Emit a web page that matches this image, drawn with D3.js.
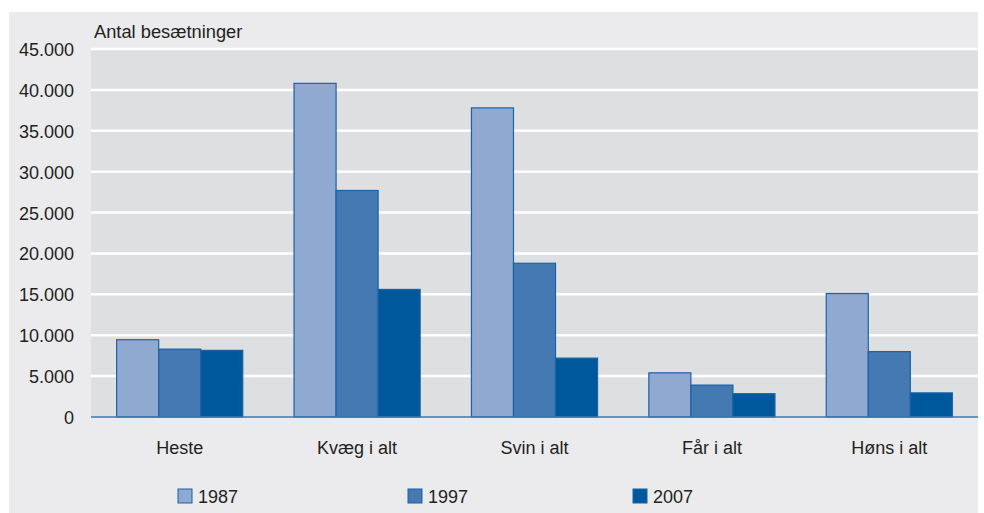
<!DOCTYPE html>
<html>
<head>
<meta charset="utf-8">
<script src="https://cdn.jsdelivr.net/npm/d3@7"></script>
<style>
  body { margin: 0; background: #fff; }
  svg { display: block; font-family: "Liberation Sans", Arial, sans-serif; }
</style>
</head>
<body>
<div id="vis"></div>
<script>
var categories = ['Heste', 'Kvæg i alt', 'Svin i alt', 'Får i alt', 'Høns i alt'];
var years = ['1987', '1997', '2007'];
var values1987 = [9450, 40800, 37800, 5400, 15100];
var values1997 = [8300, 27700, 18800, 3900, 8000];
var values2007 = [8150, 15600, 7200, 2850, 2950];
var yTicks = [0, 5000, 10000, 15000, 20000, 25000, 30000, 35000, 40000, 45000];
var colors = ['#8fa9d0', '#4579b2', '#00589c'];

var width = 984, height = 513;
var margin = { left: 91, right: 6, top: 49, bottom: 96 };
var fontSize = 18;

var series = [values1987, values1997, values2007];
var data = categories.map(function(c, i) {
  return { cat: c, vals: years.map(function(y, j) { return { year: y, value: series[j][i] }; }) };
});

var svg = d3.select('#vis').append('svg')
  .attr('width', width)
  .attr('height', height);

// outer panel
svg.append('rect')
  .attr('x', 9).attr('y', 12)
  .attr('width', 969).attr('height', 501)
  .attr('fill', '#ebebed');

var x0 = d3.scaleBand()
  .domain(categories)
  .range([margin.left, width - margin.right])
  .padding(0);

var x1 = d3.scaleBand()
  .domain(years)
  .range([0, x0.bandwidth()])
  .paddingInner(0)
  .paddingOuter(0.61);

var y = d3.scaleLinear()
  .domain([0, 45000])
  .range([height - margin.bottom, margin.top]);

// plot background
svg.append('rect')
  .attr('x', margin.left).attr('y', y(45000))
  .attr('width', width - margin.right - margin.left)
  .attr('height', y(0) - y(45000))
  .attr('fill', '#dedfe1');

var fmt = function(d) { return d3.format(',')(d).replace(/,/g, '.'); };

// gridlines
svg.selectAll('.grid')
  .data(yTicks.filter(function(d) { return d > 0; }))
  .enter().append('line')
  .attr('x1', margin.left).attr('x2', width - margin.right)
  .attr('y1', function(d) { return y(d); })
  .attr('y2', function(d) { return y(d); })
  .attr('stroke', '#ffffff')
  .attr('stroke-width', 2.5);

// y axis labels
var yAxis = d3.axisLeft(y).tickValues(yTicks).tickFormat(fmt).tickSize(0).tickPadding(17);
var yg = svg.append('g').attr('transform', 'translate(' + margin.left + ',0)').call(yAxis);
yg.select('.domain').remove();
yg.selectAll('text')
  .attr('font-size', fontSize)
  .attr('fill', '#231f20')
  .attr('font-family', '"Liberation Sans", Arial, sans-serif')
  .attr('dy', '0.36em');

svg.append('text')
  .attr('x', 94).attr('y', 38)
  .attr('font-size', 18.3)
  .attr('fill', '#231f20')
  .text('Antal besætninger');

// bars
var groups = svg.selectAll('.group')
  .data(data)
  .enter().append('g')
  .attr('transform', function(d) { return 'translate(' + x0(d.cat) + ',0)'; });

groups.selectAll('rect')
  .data(function(d) { return d.vals; })
  .enter().append('rect')
  .attr('x', function(d) { return x1(d.year); })
  .attr('y', function(d) { return y(d.value); })
  .attr('width', x1.bandwidth())
  .attr('height', function(d) { return y(0) - y(d.value); })
  .attr('fill', function(d, i) { return colors[i]; })
  .attr('stroke', '#1b62a6')
  .attr('stroke-width', 1.2);

// baseline
svg.append('line')
  .attr('x1', margin.left).attr('x2', width - margin.right)
  .attr('y1', y(0)).attr('y2', y(0))
  .attr('stroke', '#3a78b2')
  .attr('stroke-width', 1.5);

// category labels
var xAxis = d3.axisBottom(x0).tickSize(0).tickPadding(24);
var xg = svg.append('g').attr('transform', 'translate(0,' + y(0) + ')').call(xAxis);
xg.select('.domain').remove();
xg.selectAll('text')
  .attr('font-size', fontSize)
  .attr('fill', '#231f20')
  .attr('font-family', '"Liberation Sans", Arial, sans-serif');

// legend
var legendX = [178, 408, 633];
var legend = svg.selectAll('.legend')
  .data(years)
  .enter().append('g')
  .attr('transform', function(d, i) { return 'translate(' + legendX[i] + ',489)'; });
legend.append('rect')
  .attr('width', 14).attr('height', 14)
  .attr('fill', function(d, i) { return colors[i]; })
  .attr('stroke', '#1b62a6')
  .attr('stroke-width', 1);
legend.append('text')
  .attr('x', 20).attr('y', 14)
  .attr('font-size', fontSize)
  .attr('fill', '#231f20')
  .text(function(d) { return d; });
</script>
</body>
</html>
